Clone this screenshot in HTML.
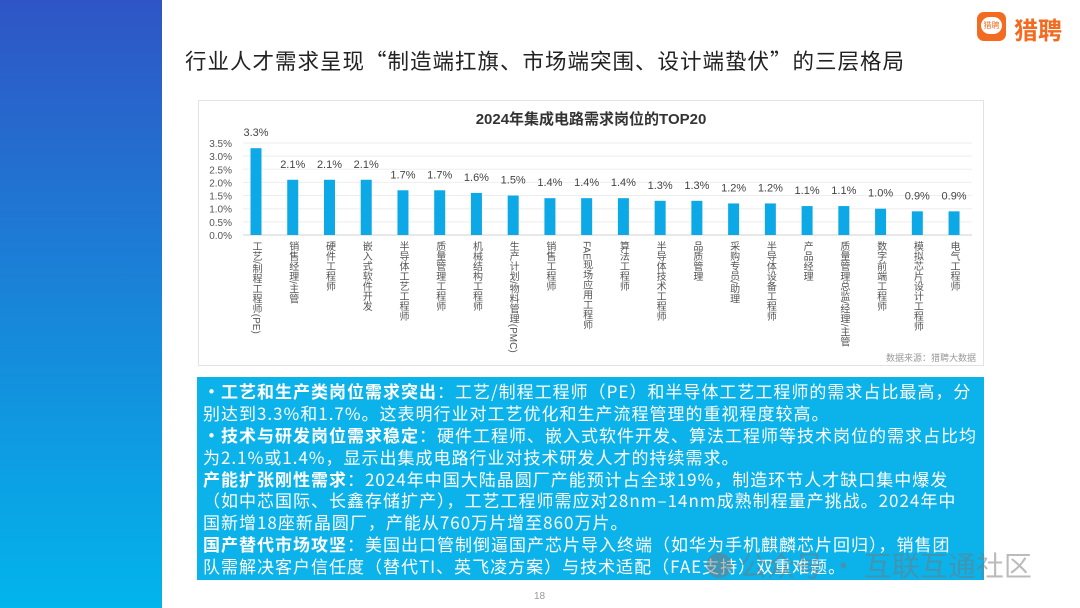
<!DOCTYPE html>
<html><head><meta charset="utf-8"><style>
body{margin:0;width:1080px;height:608px;overflow:hidden;background:#fff;font-family:"Liberation Sans","Noto Sans CJK SC",sans-serif;position:relative}
.abs{position:absolute}
#side{left:0;top:0;width:162px;height:608px;background:linear-gradient(#2f55c5,#02b5ec)}
#title{left:185px;top:46px;font-size:21.5px;letter-spacing:1px;color:#222;white-space:nowrap;font-family:"Noto Sans CJK SC",sans-serif;line-height:30px}
#logo-icon{left:977px;top:12px;width:29px;height:29px;border-radius:7px;background:#f26b21}
#logo-icon div{position:absolute;left:4px;top:5px;width:21px;height:17px;border-radius:9px;background:#fff;color:#f26b21;font-size:8px;text-align:center;line-height:17px}
#logo-text{left:1014px;top:11px;font-size:24px;color:#f26b21;font-weight:bold}
#frame{left:198px;top:100px;width:786px;height:266px;border:1px solid #e2e2e2;box-sizing:border-box}
#chart-title{left:198px;width:786px;top:108px;text-align:center;font-size:15px;font-weight:bold;color:#333}
.xl{position:absolute;writing-mode:vertical-rl;font-size:10px;color:#555;top:241px;white-space:nowrap;line-height:11px}
#src{left:886px;top:351px;font-size:9px;color:#999}
#box{left:197px;top:377px;width:787px;height:203px;background:#0cb2ea;color:#fff;font-size:17px;letter-spacing:1px;line-height:21.9px;padding:3px 6px;box-sizing:border-box;font-family:"Noto Sans CJK SC",sans-serif;overflow:hidden}
#box div{white-space:nowrap;height:21.9px}
#box b{font-weight:bold}
#pg{left:534px;top:591px;font-size:10px;color:#999}
#wm{left:705px;top:545px;font-size:28px;color:rgba(120,120,120,0.5);white-space:nowrap;font-family:"Noto Sans CJK SC",sans-serif}
</style></head><body>
<div id="side" class="abs"></div>
<div id="title" class="abs">行业人才需求呈现“制造端扛旗、市场端突围、设计端蛰伏”的三层格局</div>
<div id="logo-icon" class="abs"><div>猎聘</div></div>
<div id="logo-text" class="abs">猎聘</div>
<div id="frame" class="abs"></div>
<div id="chart-title" class="abs">2024年集成电路需求岗位的TOP20</div>
<svg id="chart" class="abs" style="left:0;top:0" width="1080" height="608"></svg>
<div id="labels"></div>
<div id="src" class="abs">数据来源：猎聘大数据</div>
<div id="box" class="abs">
<div><b>·工艺和生产类岗位需求突出</b>：工艺/制程工程师（PE）和半导体工艺工程师的需求占比最高，分</div>
<div>别达到3.3%和1.7%。这表明行业对工艺优化和生产流程管理的重视程度较高。</div>
<div><b>·技术与研发岗位需求稳定</b>：硬件工程师、嵌入式软件开发、算法工程师等技术岗位的需求占比均</div>
<div>为2.1%或1.4%，显示出集成电路行业对技术研发人才的持续需求。</div>
<div><b>产能扩张刚性需求</b>：2024年中国大陆晶圆厂产能预计占全球19%，制造环节人才缺口集中爆发</div>
<div>（如中芯国际、长鑫存储扩产），工艺工程师需应对28nm–14nm成熟制程量产挑战。2024年中</div>
<div>国新增18座新晶圆厂，产能从760万片增至860万片。</div>
<div><b>国产替代市场攻坚</b>：美国出口管制倒逼国产芯片导入终端（如华为手机麒麟芯片回归），销售团</div>
<div>队需解决客户信任度（替代TI、英飞凌方案）与技术适配（FAE支持）双重难题。</div>
</div>
<div id="wm" class="abs">● 公众号 · 互联互通社区</div>
<div id="pg" class="abs">18</div>
<script>
const categories=["工艺/制程工程师(PE)","销售经理/主管","硬件工程师","嵌入式软件开发","半导体工艺工程师","质量管理工程师","机械结构工程师","生产计划/物料管理(PMC)","销售工程师","FAE现场应用工程师","算法工程师","半导体技术工程师","品质管理","采购专员/助理","半导体设备工程师","产品经理","质量管理总监/经理/主管","数字前端工程师","模拟芯片设计工程师","电气工程师"];
const values=[3.3,2.1,2.1,2.1,1.7,1.7,1.6,1.5,1.4,1.4,1.4,1.3,1.3,1.2,1.2,1.1,1.1,1.0,0.9,0.9];
const yTicks=[0,0.5,1.0,1.5,2.0,2.5,3.0,3.5];
const NS="http://www.w3.org/2000/svg";
const svg=document.getElementById('chart');
const y=v=>235-v*26.3;
const x=i=>256+i*36.74;
function mk(t,a){const e=document.createElementNS(NS,t);for(const k in a)e.setAttribute(k,a[k]);return e;}
yTicks.forEach(t=>{
  const l=mk('line',{x1:243,x2:972,y1:y(t),y2:y(t),stroke:t===0?'#d0d0d0':'#eeeeee','stroke-width':1});
  
  
  svg.appendChild(l);
  const tx=mk('text',{x:232,y:y(t)+4,'text-anchor':'end','font-size':10,fill:'#555','font-family':'Liberation Sans, sans-serif'});
  tx.textContent=t.toFixed(1)+'%';
  
  
  svg.appendChild(tx);
});
const lab=document.getElementById('labels');
values.forEach((v,i)=>{
  const r=mk('rect',{x:x(i)-5.5,y:y(v),width:11,height:235-y(v),fill:'#0ca9e6'});
  
  
  svg.appendChild(r);
  const t=mk('text',{x:x(i),y:y(v)-12,'text-anchor':'middle','font-size':11,fill:'#444','font-family':'Liberation Sans, sans-serif'});
  t.textContent=v.toFixed(1)+'%';
  
  
  svg.appendChild(t);
  const d=document.createElement('div');
  d.className='xl';
  d.style.left=(x(i)-6)+'px';
  d.textContent=categories[i];
  
  
  lab.appendChild(d);
});
</script>
</body></html>
